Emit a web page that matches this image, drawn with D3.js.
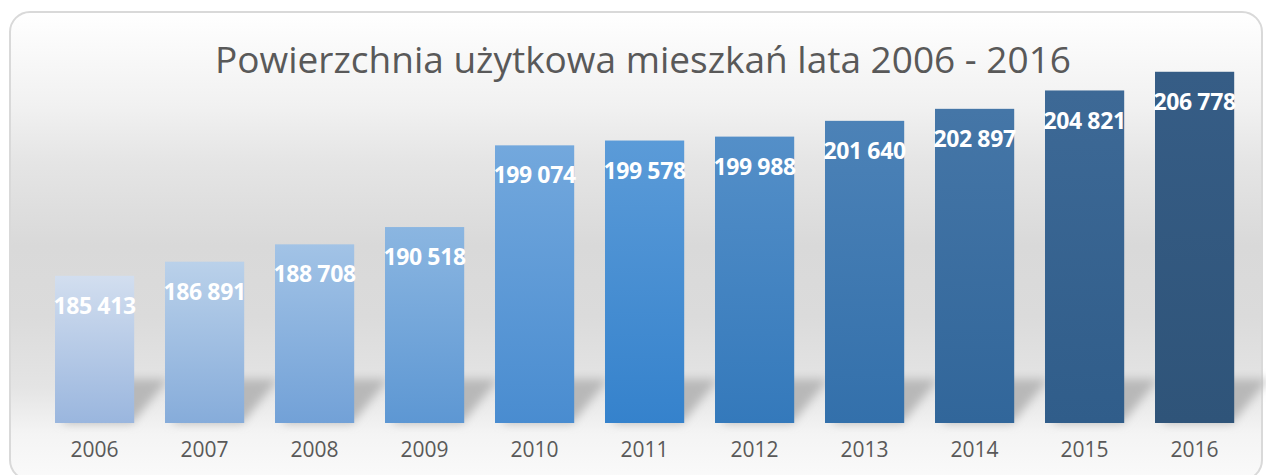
<!DOCTYPE html>
<html>
<head>
<meta charset="utf-8">
<script src="https://cdn.jsdelivr.net/npm/d3@7"></script>
<style>
  body { margin: 0; background: #fff; overflow: hidden; }
  svg { display: block; }
</style>
</head>
<body>
<script>
// data
var years = ["2006", "2007", "2008", "2009", "2010", "2011", "2012", "2013", "2014", "2015", "2016"];
var areas = [185413, 186891, 188708, 190518, 199074, 199578, 199988, 201640, 202897, 204821, 206778];
var titleText = "Powierzchnia użytkowa mieszkań lata 2006 - 2016";

var width = 1266, height = 475;

var svg = d3.select("body").append("svg")
  .attr("width", width)
  .attr("height", height);

var defs = svg.append("defs");

// panel background gradient
var bg = defs.append("linearGradient")
  .attr("id", "bgGrad")
  .attr("x1", 0).attr("y1", 0).attr("x2", 0).attr("y2", 1);
[[0, "#ffffff"], [0.2, "#f1f1f1"], [0.32, "#e5e5e5"], [0.5, "#d9d9d9"], [0.65, "#dbdbdb"],
 [0.8, "#e4e4e4"], [0.9, "#f4f4f4"], [1, "#fafafa"]].forEach(function(s) {
  bg.append("stop").attr("offset", s[0]).attr("stop-color", s[1]);
});

defs.append("filter")
  .attr("id", "blur")
  .attr("x", "-50%").attr("y", "-50%").attr("width", "200%").attr("height", "200%")
  .append("feGaussianBlur")
    .attr("stdDeviation", 5);

svg.append("rect")
  .attr("x", 10).attr("y", 12)
  .attr("width", 1252).attr("height", 468)
  .attr("rx", 20).attr("ry", 20)
  .attr("fill", "url(#bgGrad)")
  .attr("stroke", "#d9d9d9")
  .attr("stroke-width", 2);

// scales
var x = d3.scaleBand()
  .domain(years)
  .range([39.6, 1249.6])
  .paddingInner(0.28)
  .paddingOuter(0.14);

var y = d3.scaleLinear()
  .domain([170000, 210000])
  .range([423, 41]);

// colour ramps (top / bottom of each bar)
var idx = d3.scaleLinear().domain([0, years.length - 1]).range([0, 1]);
var topCol = d3.scaleLinear().domain([0, 0.5, 1]).range(["#d2deef", "#5b9bd8", "#365d86"]);
var botCol = d3.scaleLinear().domain([0, 0.5, 1]).range(["#9ab6de", "#3582cc", "#2f5479"]);

years.forEach(function(yr, i) {
  var g = defs.append("linearGradient")
    .attr("id", "bar" + i)
    .attr("x1", 0).attr("y1", 0).attr("x2", 0).attr("y2", 1);
  g.append("stop").attr("offset", 0).attr("stop-color", topCol(idx(i)));
  g.append("stop").attr("offset", 1).attr("stop-color", botCol(idx(i)));
});

var base = y(170000);

// floor shadows
svg.append("g").selectAll("path")
  .data(years)
  .enter()
    .append("path")
      .attr("d", function(d) {
        var x0 = x(d) + 6, x1 = x(d) + x.bandwidth() - 2;
        return "M" + x0 + "," + base + "L" + x1 + "," + base +
          "L" + (x1 + 36) + "," + (base - 44) + "L" + (x0 + 36) + "," + (base - 44) + "Z";
      })
      .attr("fill", "#b8b8b8")
      .attr("filter", "url(#blur)");

// bars
svg.append("g").selectAll("rect")
  .data(areas)
  .enter()
    .append("rect")
      .attr("x", function(d, i) { return x(years[i]); })
      .attr("y", function(d) { return y(d); })
      .attr("width", x.bandwidth())
      .attr("height", function(d) { return base - y(d); })
      .attr("fill", function(d, i) { return "url(#bar" + i + ")"; });

// value labels
svg.append("g").selectAll("text")
  .data(areas)
  .enter()
    .append("text")
      .attr("x", function(d, i) { return x(years[i]) + x.bandwidth() / 2; })
      .attr("y", function(d) { return y(d) + 30; })
      .attr("dy", "0.35em")
      .attr("text-anchor", "middle")
      .attr("font-family", "'Open Sans', sans-serif")
      .attr("font-weight", "bold")
      .attr("font-size", 23)
      .attr("letter-spacing", -0.4)
      .attr("fill", "#ffffff")
      .text(function(d) { return d3.format(",")(d).replace(/,/g, " "); });

// x axis
var xAxis = svg.append("g")
  .attr("transform", "translate(0," + base + ")")
  .call(d3.axisBottom(x).tickSize(0).tickPadding(19));
xAxis.select(".domain").remove();
xAxis.selectAll("text")
  .attr("font-family", "'Open Sans', sans-serif")
  .attr("font-size", 21)
  .attr("fill", "#595959");

// title
svg.append("text")
  .attr("x", 643)
  .attr("y", 73)
  .attr("text-anchor", "middle")
  .attr("font-family", "'Open Sans', sans-serif")
  .attr("font-size", 37)
  .attr("fill", "#595959")
  .text(titleText);
</script>
</body>
</html>
